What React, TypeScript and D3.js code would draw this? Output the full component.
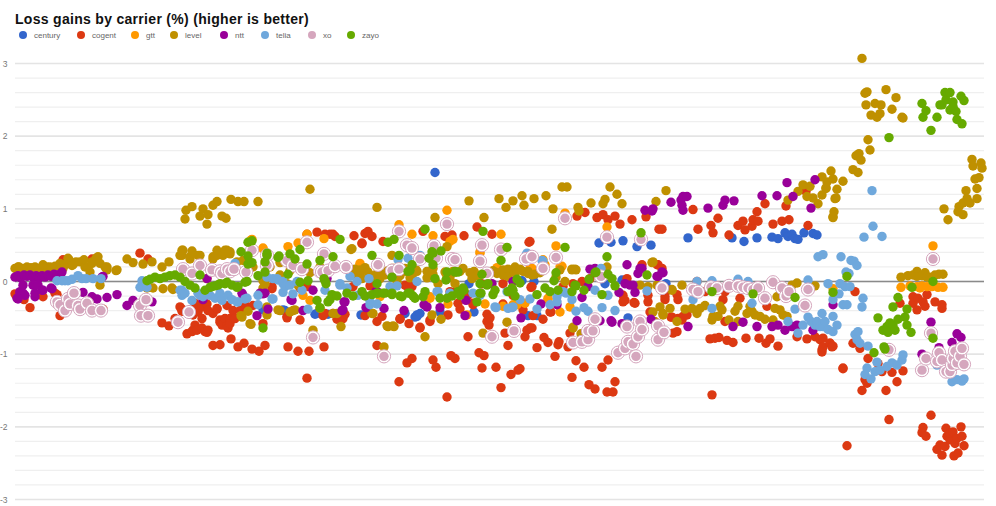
import * as d3 from "d3"

type Pt = [number, number]

// [test index, gain in %]
const century: Pt[] = [[285,-.4],[283,-.39],[263,-.39],[317,-.44],[315,-.45],[328,-.45],[361,-.46],[405,-.44],[417,-.48],[415,-.49],[417,-.46],[420,-.44],[440,-.42],[435,1.5],[469,-.03],[474,-.42],[522,.01],[528,-.47],[534,0],[537,-.47],[599,.53],[605,-.03],[611,.54],[622,.02],[623,.56],[628,-.5],[637,.48],[651,.5],[666,-.03],[688,.6],[732,.6],[744,.55],[757,.6],[772,.61],[778,.59],[785,.67],[788,.62],[792,.65],[795,.59],[798,.58],[804,.67],[813,.66],[817,.64]]

const cogent: Pt[] = [[15,-.17],[24,-.25],[30,-.36],[43,-.21],[55,-.16],[57,-.18],[60,-.47],[63,.3],[92,.31],[103,-.38],[140,.39],[148,.31],[162,-.57],[169,-.61],[175,-.51],[180,-.35],[182,-.38],[182,-.41],[187,-.72],[192,-.69],[193,-.46],[193,-.67],[195,-.3],[195,-.6],[197,-.67],[198,-.33],[198,-.42],[202,-.51],[202,-.35],[202,-.64],[205,-.69],[207,-.7],[207,-.31],[208,-.4],[208,-.67],[213,-.88],[213,-.44],[217,-.38],[217,-.37],[220,-.87],[220,-.56],[220,-.53],[222,-.6],[225,-.51],[227,-.61],[227,-.33],[228,-.64],[230,-.51],[230,-.58],[231,-.79],[233,-.4],[235,-.51],[238,-.9],[240,-.4],[245,-.32],[244,-.85],[252,-.93],[253,-.33],[259,-.96],[263,-.58],[265,-.88],[272,-.1],[272,-.07],[287,-.5],[287,-.48],[288,-.9],[298,-.96],[300,-.09],[300,-.53],[307,-1.33],[307,-.07],[309,-.96],[307,.65],[317,.68],[323,-.47],[325,-.44],[324,-.9],[325,.65],[330,.65],[333,.65],[333,-.44],[335,.62],[337,-.52],[340,-.46],[342,-.48],[343,-.51],[345,-.45],[353,-.07],[354,.63],[362,.52],[362,.53],[365,.66],[365,-.47],[368,.69],[370,-.06],[372,.62],[377,-.88],[377,-.55],[382,-.48],[383,.55],[399,-1.38],[400,-.51],[400,-.52],[405,-.05],[407,-1.12],[407,-.06],[409,-.58],[410,-.05],[412,-1.06],[412,-.07],[420,-.64],[420,-.63],[423,.69],[430,-.55],[430,-.53],[433,-1.08],[436,-1.18],[445,.62],[447,-1.59],[448,-.46],[450,-.14],[451,-1.02],[452,.64],[455,-1.06],[457,-.12],[458,-.3],[460,-.38],[464,.63],[468,-.76],[468,-.19],[473,-.32],[473,-.3],[477,.75],[479,-.98],[482,-1.19],[482,-.03],[484,-1.02],[487,-.55],[487,-.45],[489,-.6],[490,-.5],[492,.65],[496,-1.18],[501,-1.46],[503,-.31],[503,-.03],[505,-.71],[508,-.88],[511,-1.28],[513,-.19],[518,-1.22],[520,-1.2],[523,-.39],[525,-.76],[527,-.67],[529,.54],[530,.55],[530,-.64],[531,-.08],[532,-.64],[532,-.07],[533,-.47],[537,-.91],[543,-.52],[544,-.77],[548,-.84],[550,-.42],[551,-.42],[555,-1.03],[558,-.87],[559,-.83],[563,-.07],[568,-.9],[570,-.71],[572,-1.32],[573,-.03],[576,-1.09],[577,.9],[582,0],[584,-1.18],[585,.95],[589,-1.42],[590,.04],[595,-1.48],[597,.88],[602,-1.18],[603,.92],[607,-1.52],[608,.85],[608,-1.08],[613,-1.52],[615,.9],[615,-1.38],[620,.79],[623,-.28],[623,-.19],[625,-.26],[627,.04],[632,.85],[634,-.29],[635,-.3],[642,.23],[646,.89],[648,-.19],[648,-.28],[650,-.42],[657,.23],[658,.23],[659,.72],[662,.72],[662,.18],[665,-.21],[665,-.25],[668,-.12],[671,-.49],[672,-.49],[673,-.71],[677,-.18],[677,-.69],[678,-.25],[678,-.51],[682,-.53],[683,-.48],[687,-.46],[693,.99],[697,0],[698,.72],[705,-.14],[710,-.79],[711,.77],[712,-1.56],[713,.67],[715,-.78],[718,.87],[719,-.77],[723,-.25],[725,-.14],[725,-.55],[727,-.81],[729,.64],[733,-.84],[738,.77],[740,-.23],[743,.83],[745,.71],[746,-.78],[752,.76],[753,.85],[757,.96],[758,.83],[759,-.78],[765,1.07],[767,-.34],[766,-.85],[770,-.79],[773,.79],[778,-.89],[782,.83],[786,1.04],[789,.85],[797,-.76],[806,1.24],[807,-.79],[808,.77],[815,-.76],[820,-.8],[822,-.94],[822,-.97],[823,-.78],[823,-.9],[830,-.85],[830,-.85],[832,-.9],[833,-.89],[843,-1.19],[843,-1.2],[847,-2.26],[853,-.85],[855,-.14],[860,-.92],[862,-1.5],[865,-1.35],[867,-1.4],[868,-1.06],[878,-1.13],[882,-1.24],[886,-1.5],[889,-1.9],[892,-1.25],[897,-1.38],[900,-.3],[903,-1.23],[913,-.21],[913,-.3],[917,-.39],[918,-.23],[922,-2.08],[923,-.28],[923,-2.01],[925,-.34],[926,-2.13],[927,-.18],[931,-1.84],[935,-.28],[937,-2.31],[940,-2.25],[942,-.32],[942,-.37],[942,-2.39],[945,-2.27],[946,-2.02],[947,-2.13],[950,-2.18],[950,-2.09],[953,-2.07],[954,-2.4],[955,-2.23],[957,-2.16],[958,-2.36],[961,-2],[962,-2.13],[964,-2.26]]

const gtt: Pt[] = [[207,.04],[251,.57],[252,.58],[263,.45],[263,.46],[288,.48],[298,.53],[303,-.19],[307,.65],[310,-.26],[324,.59],[360,.25],[360,.23],[380,-.21],[399,.78],[412,.65],[430,-.23],[430,-.21],[433,.63],[447,.98],[448,-.31],[450,.55],[453,.58],[467,-.46],[480,.41],[480,.39],[485,-.31],[497,.19],[501,.65],[503,-.34],[513,-.32],[517,-.32],[525,-.3],[530,.18],[532,.18],[543,.3],[545,.23],[548,-.25],[548,-.23],[556,.49],[560,-.42],[560,.2],[562,.21],[565,.94],[570,-.35],[607,.75],[833,-.1],[901,-.08],[910,-.06],[917,-.07],[920,-.09],[922,-.06],[927,-.07],[932,-.07],[933,.49],[938,-.08],[943,-.08]]

const level: Pt[] = [[15,.18],[18,.2],[19,.2],[23,.18],[27,.2],[31,.19],[35,.2],[39,.18],[43,.23],[30,.13],[47,.2],[50,.2],[51,.19],[45,.12],[55,.21],[59,.22],[60,.25],[63,.18],[66,.24],[68,.32],[69,.3],[72,.22],[73,.23],[76,.27],[80,.27],[84,.3],[85,.2],[88,.2],[90,.13],[92,.27],[92,.25],[96,.32],[98,.34],[100,.25],[100,-.05],[105,.2],[107,.16],[107,.2],[116,.15],[117,.16],[127,.31],[133,.26],[143,.24],[147,-.09],[152,.27],[153,-.09],[162,.2],[163,-.1],[169,.27],[172,-.09],[173,-.11],[180,.36],[182,.43],[182,.36],[183,.43],[190,.31],[190,.34],[192,.42],[198,.36],[200,.36],[185,.86],[186,.98],[192,1.03],[200,.9],[203,1],[207,.79],[208,.92],[213,1.05],[217,1.1],[222,.9],[226,.87],[231,1.13],[238,1.1],[244,1.1],[258,1.1],[213,.31],[213,.34],[217,.36],[217,.43],[223,.36],[225,.43],[227,.43],[230,.38],[230,.41],[237,.27],[243,.29],[253,.2],[263,.01],[263,-.09],[265,-.03],[241,-.47],[242,-.49],[248,-.41],[250,-.58],[251,-.59],[267,-.35],[267,-.46],[278,-.39],[280,-.4],[280,.09],[287,-.03],[290,-.42],[293,-.4],[295,-.39],[298,-.05],[313,-.67],[320,-.37],[337,-.44],[310,1.27],[270,.2],[280,.26],[290,.15],[300,.2],[310,.12],[320,.2],[333,-.44],[341,-.62],[351,.44],[352,.45],[352,.1],[353,.11],[355,.17],[357,.07],[358,.12],[360,.16],[362,.15],[362,.04],[365,.19],[368,.13],[372,-.44],[373,-.44],[373,.08],[377,1.02],[378,.16],[380,.12],[380,.04],[384,.1],[384,-.9],[385,.09],[387,-.61],[388,-.62],[388,.15],[392,.36],[392,.18],[393,-.61],[394,-.62],[394,.18],[397,0],[400,.08],[405,.14],[405,.18],[410,.05],[412,.07],[413,.13],[416,.16],[417,.14],[425,-.76],[427,.05],[427,.14],[432,-.46],[432,.11],[433,.1],[433,.18],[435,.88],[438,-.03],[445,.13],[441,-.52],[447,.07],[447,.48],[450,.05],[453,.14],[455,.13],[455,-.03],[460,.14],[463,.18],[469,1.11],[470,.12],[472,.04],[474,.14],[477,.09],[478,.08],[484,.88],[483,-.71],[487,.09],[488,.12],[493,.15],[497,.12],[497,.11],[499,1.14],[503,.09],[503,.16],[506,1.02],[507,-.56],[508,.17],[508,.07],[513,1.11],[515,.12],[515,.2],[520,.17],[520,.16],[522,1.18],[523,.14],[524,1.05],[528,.14],[528,.11],[532,.09],[534,1.14],[535,.1],[540,.12],[546,1.18],[552,.72],[553,1],[556,.06],[560,.16],[562,1.3],[565,0],[567,1.3],[572,.17],[573,-.64],[573,-.63],[572,.16],[575,.17],[576,.16],[578,1.02],[579,.97],[581,-.72],[591,1.08],[603,1.07],[605,1.13],[607,.2],[610,1.3],[617,1.2],[622,1.07],[640,-.05],[648,-.07],[652,.26],[653,.27],[653,-.42],[655,-.55],[656,1.1],[657,-.05],[660,-.35],[663,-.44],[663,-.46],[666,1.25],[670,-.37],[672,-.11],[672,-.12],[677,-.55],[682,-.05],[685,-.38],[692,-.37],[697,-.44],[700,-.37],[705,-.33],[712,-.53],[713,-.48],[718,-.48],[720,-.34],[722,-.39],[729,-.53],[735,-.41],[738,-.34],[738,-.55],[747,-.44],[750,-.34],[752,-.41],[755,-.46],[760,-.48],[765,-.52],[773,-.53],[775,-.37],[777,-.21],[780,-.39],[783,-.46],[787,-.48],[788,1.12],[792,-.05],[797,-.02],[798,1.24],[803,1.33],[807,1.17],[810,1.31],[813,1.15],[815,-.06],[818,1.07],[822,1.19],[822,1.44],[826,1.28],[826,1.29],[827,1.37],[831,1.52],[833,.89],[833,1.41],[833,.88],[834,.96],[835,1.14],[836,1.15],[837,1.27],[843,1.38],[853,1.54],[856,1.73],[858,1.5],[859,1.76],[861,1.67],[862,3.07],[865,2.59],[866,2.43],[867,2.61],[868,1.95],[870,1.81],[871,2.29],[875,2.45],[877,2.26],[880,2.31],[881,2.43],[886,2.64],[892,2.37],[896,2.53],[901,.06],[902,2.26],[903,2.25],[908,.08],[913,.09],[917,.14],[917,.07],[922,.08],[925,.12],[927,.06],[930,.06],[935,.09],[939,.1],[943,.1],[944,1],[948,.85],[958,.96],[959,1.03],[963,.92],[963,1.08],[966,1.25],[967,1.14],[970,1.08],[972,1.68],[973,1.59],[975,1.41],[977,1.28],[977,1.14],[979,1.43],[981,1.63],[982,1.56]]

const ntt: Pt[] = [[15,.06],[17,.07],[18,.08],[21,.05],[24,.09],[27,.07],[30,.09],[33,.06],[36,.08],[39,.05],[42,.08],[45,.06],[48,.09],[51,.07],[54,.1],[57,.09],[60,.1],[62,.13],[20,-.15],[20,-.14],[18,-.24],[17,-.23],[23,-.05],[23,-.16],[25,-.19],[33,-.05],[35,-.21],[35,-.16],[38,-.05],[42,-.12],[43,-.12],[51,-.09],[52,-.1],[83,-.15],[92,-.21],[97,-.24],[102,.06],[103,.07],[107,-.22],[117,-.18],[127,-.33],[133,-.26],[152,-.28],[203,-.25],[207,.04],[242,-.16],[243,-.19],[257,-.47],[260,-.16],[263,-.17],[265,-.16],[268,-.38],[291,-.25],[292,-.26],[303,-.4],[313,-.12],[327,.04],[342,-.4],[343,-.39],[344,-.28],[345,-.28],[366,-.36],[376,-.14],[377,-.14],[384,-.37],[404,-.4],[424,-.32],[427,-.35],[440,-.36],[466,-.26],[465,-.47],[492,-.03],[513,0],[521,-.5],[541,-.31],[557,-.32],[577,-.54],[582,-.22],[588,-.07],[590,.17],[595,.18],[600,-.54],[611,-.54],[612,-.56],[619,-.15],[622,-.58],[625,-.03],[627,.23],[630,-.05],[633,-.05],[635,-.15],[638,.11],[640,.18],[642,.18],[645,.98],[651,-.52],[652,.97],[653,1],[657,.07],[658,.07],[662,.13],[663,.12],[671,1.09],[681,1.12],[682,1.05],[683,1.17],[683,.98],[687,1.17],[688,-.62],[708,1.01],[723,1.05],[725,1.12],[733,-.62],[734,1.11],[743,-.56],[757,-.62],[762,1.18],[772,-.62],[777,1.18],[778,-.6],[785,-.67],[787,1.36],[792,-.62],[793,1.17],[797,-.6],[811,1.01],[813,-.67],[815,1.4],[833,-.32],[922,-1],[931,-.56],[932,-.73],[939,-.91],[952,-.84],[957,-.72],[961,-.77]]

const telia: Pt[] = [[57,.01],[62,.01],[65,.01],[68,.01],[72,.03],[78,.08],[82,.04],[86,.04],[93,.04],[101,.04],[140,-.08],[142,.01],[147,-.08],[180,-.12],[182,-.12],[182,-.19],[183,-.17],[185,-.16],[192,-.26],[198,-.16],[200,-.19],[203,-.21],[210,-.19],[215,-.23],[220,-.16],[222,-.26],[228,-.19],[232,-.25],[235,.25],[237,-.28],[238,-.28],[245,-.24],[247,-.23],[258,-.19],[258,-.32],[267,.06],[272,-.24],[273,-.24],[273,.04],[277,.04],[278,.02],[283,-.03],[283,-.15],[283,0],[285,-.07],[290,-.05],[293,-.17],[297,0],[302,-.12],[308,-.38],[325,-.12],[340,-.05],[340,-.03],[347,-.09],[350,.07],[357,0],[358,-.19],[368,-.21],[369,.04],[370,-.32],[370,-.28],[377,-.31],[390,-.07],[397,-.06],[398,.3],[408,.32],[417,0],[420,.36],[437,-.14],[438,-.14],[450,-.16],[473,-.16],[480,-.19],[495,-.35],[496,-.36],[507,-.14],[508,-.37],[512,-.36],[513,-.35],[520,-.25],[526,.36],[527,.39],[530,-.24],[537,-.38],[542,.29],[543,.28],[550,-.32],[557,-.21],[557,-.28],[563,-.14],[566,-.16],[572,-.25],[576,-.41],[584,-.36],[588,-.41],[595,-.12],[601,.18],[602,-.36],[608,-.19],[615,-.4],[647,-.13],[693,-.25],[697,0],[712,.01],[712,-.37],[738,.03],[748,0],[752,-.3],[788,-.55],[795,-.38],[798,-.71],[803,-.6],[808,.02],[808,-.49],[811,-.55],[815,-.6],[817,-.55],[820,-.62],[822,-.44],[823,-.62],[825,-.55],[828,-.03],[828,-.66],[833,-.69],[833,-.48],[833,-.25],[837,-.6],[839,-.17],[840,-.03],[843,-.32],[845,-.07],[846,.13],[847,-.32],[849,.11],[850,-.07],[851,.29],[854,.28],[855,-.73],[857,.22],[857,-.8],[858,-.69],[860,-.85],[841,.34],[818,.34],[823,.37],[862,-.35],[863,-.23],[864,.61],[865,-1.28],[867,-1.19],[868,-.89],[871,-1.34],[872,1.25],[873,.76],[875,-1.24],[877,-1.11],[880,-1.22],[882,.62],[887,-1.17],[892,-1.12],[897,-1.15],[902,-1.08],[903,-1.01],[937,-1.15],[952,-1.38],[957,-1.35],[962,-1.37],[964,-1.34]]

const xo: Pt[] = [[57,-.28],[60,-.32],[65,-.4],[68,-.24],[70,-.31],[74,-.16],[78,-.33],[80,-.38],[87,-.3],[92,-.4],[101,-.4],[140,-.33],[141,-.47],[146,-.25],[148,-.47],[178,-.56],[183,.17],[189,-.42],[192,.11],[200,.22],[212,.16],[220,.14],[222,.11],[227,.17],[230,.14],[234,.17],[246,.13],[252,.43],[267,.36],[267,.22],[287,.29],[293,.22],[302,.17],[307,.54],[313,-.77],[320,.14],[322,.13],[324,.38],[328,.15],[335,.21],[346,.2],[378,.23],[384,-1.03],[392,.15],[399,.17],[399,.69],[407,.5],[412,.46],[420,.31],[434,.49],[436,.32],[447,.79],[452,.31],[455,.3],[480,.28],[482,.5],[487,.11],[492,-.76],[501,.44],[514,-.68],[526,.31],[532,.34],[543,.18],[556,.33],[565,.87],[573,-.84],[582,-.83],[588,-.8],[588,-.68],[593,-.68],[595,-.52],[601,.07],[607,.61],[618,-.98],[625,-.92],[627,-.62],[628,-.83],[633,-.86],[636,-1.03],[638,-.76],[640,-.55],[641,.58],[642,-.66],[658,-.8],[658,-.61],[662,-.09],[664,-.7],[693,-.11],[698,-.14],[711,-.08],[717,-.09],[729,-.06],[738,-.06],[743,-.08],[748,-.09],[753,-.11],[758,-.09],[765,-.23],[773,-.01],[782,-.09],[786,-.2],[789,-.14],[805,-.33],[808,-.11],[889,-.94],[922,-1.22],[926,-1.06],[931,-.71],[933,.31],[937,-1.1],[939,-.98],[942,-1.08],[946,-1.24],[950,-1.24],[952,-1.15],[953,-1.06],[955,-.96],[957,-1.12],[960,-1.03],[962,-.92],[964,-1.14]]

const zayo: Pt[] = [[147,.01],[150,.03],[155,.06],[160,.04],[165,.06],[170,.08],[175,.09],[180,.06],[185,0],[190,-.05],[195,-.09],[200,.09],[205,-.12],[210,-.08],[212,-.07],[215,-.06],[218,-.05],[220,-.03],[225,-.03],[227,-.01],[232,-.05],[237,-.08],[238,-.07],[241,.41],[245,-.01],[247,0],[248,.54],[248,.35],[248,.24],[252,.56],[252,.26],[258,.08],[263,-.64],[265,.13],[265,.27],[267,.36],[267,.39],[278,.33],[279,.35],[288,.1],[290,.38],[295,.31],[300,.44],[300,-.01],[307,.24],[308,.01],[317,-.26],[320,.29],[320,-.36],[324,.04],[325,.01],[326,-.03],[328,-.28],[330,-.25],[332,-.18],[333,.34],[337,-.2],[340,.58],[347,-.16],[353,-.2],[362,-.14],[365,-.2],[372,.36],[372,-.18],[377,-.03],[377,-.16],[378,-.16],[383,-.16],[385,-.16],[392,.06],[392,-.18],[392,-.16],[400,-.2],[399,.36],[402,-.21],[408,.14],[408,-.16],[410,.15],[410,-.16],[413,-.2],[412,.23],[415,-.23],[388,.54],[394,.58],[423,-.21],[425,.72],[425,-.14],[429,.32],[432,.41],[433,.23],[433,.39],[435,.04],[440,-.23],[441,.42],[446,.02],[447,.13],[447,-.23],[452,-.2],[455,.13],[455,.14],[458,.13],[458,-.14],[460,-.19],[463,-.09],[464,-.12],[477,-.28],[480,-.03],[480,-.16],[481,-.16],[482,.1],[483,.69],[487,-.05],[488,-.03],[493,-.18],[495,-.12],[501,.29],[507,.47],[508,-.14],[512,-.09],[513,-.12],[515,-.2],[517,.03],[520,-.02],[537,-.18],[545,-.09],[550,-.14],[554,.01],[556,.12],[558,-.12],[565,.47],[572,-.14],[575,-.05],[576,-.06],[584,-.12],[589,.03],[595,.12],[596,.13],[602,-.18],[607,.34],[608,.1],[612,.04],[615,-.06],[641,.67],[647,.09],[712,-.14],[753,-.17],[795,-.22],[833,-.15],[847,.07],[874,-.98],[878,-.5],[883,-.67],[884,-.9],[885,-.93],[887,-.62],[888,-.7],[889,1.98],[890,-.57],[893,-.35],[893,-.6],[895,-.67],[898,-.22],[898,-.52],[905,-.49],[907,-.38],[907,-.6],[911,-.7],[912,-.08],[922,2.45],[923,2.26],[926,2.35],[931,2.08],[933,0],[933,-.78],[937,2.26],[940,2.43],[942,2.43],[945,2.6],[946,2.5],[950,2.6],[950,2.36],[953,2.47],[953,2.41],[956,2.34],[957,2.23],[961,2.55],[962,2.17],[964,2.49]]

const yTicks = [3, 2, 1, 0, -1, -2, -3]
const yGrid = d3.range(-15, 16).map((d) => d / 5)

const carriers = ["century", "cogent", "gtt", "level", "ntt", "telia", "xo", "zayo"]
const colors = ["#3366cc", "#dc3912", "#ff9900", "#bf9000", "#990099", "#6fa8dc", "#d5a6bd", "#66aa00"]
const seriesData = [century, cogent, gtt, level, ntt, telia, xo, zayo]

const legendDot = [23, 81, 135, 174, 224, 265, 312, 351]

const width = 996
const height = 506

function App() {
    const x = d3.scaleLinear().domain([15, 985]).range([15, 985])
    const y = d3.scaleLinear().domain([-3, 3]).range([499.5, 63.5])

    return (
        <svg
            width={width}
            height={height}
            style={{ position: "absolute", left: 0, top: 0, fontFamily: "'Liberation Sans', Arial, sans-serif" }}
        >
            <text x={15} y={24} fontSize={14} fontWeight="bold" letterSpacing={0.3} fill="#111">
                Loss gains by carrier (%) (higher is better)
            </text>

            {carriers.map((name, i) => (
                <g key={name}>
                    <circle cx={legendDot[i]} cy={35} r={4} fill={colors[i]} />
                    <text x={legendDot[i] + 11} y={38} fontSize={8} fill="#666">{name}</text>
                </g>
            ))}

            {yGrid.map((d) => {
                const major = Number.isInteger(d)
                return (
                    <line
                        key={d}
                        x1={15}
                        x2={984}
                        y1={y(d)}
                        y2={y(d)}
                        stroke={major ? "#e4e4e4" : "#efefef"}
                        strokeWidth={major ? 1.6 : 1.2}
                    />
                )
            })}
            <line x1={15} x2={984} y1={y(0)} y2={y(0)} stroke="#8a8a8a" strokeWidth={1.4} />

            {yTicks.map((d) => (
                <text key={d} x={7.5} y={y(d) + 3} fontSize={8.5} textAnchor="end" fill="#777">{d}</text>
            ))}

            {seriesData.map((points, i) => (
                <g key={carriers[i]}>
                    {points.map(([px, py], j) =>
                        carriers[i] === "xo" ? (
                            <g key={j}>
                                <circle cx={x(px)} cy={y(py)} r={6.6} fill="#fff" stroke={colors[i]} strokeWidth={1} />
                                <circle cx={x(px)} cy={y(py)} r={4.7} fill={colors[i]} />
                            </g>
                        ) : (
                            <circle key={j} cx={x(px)} cy={y(py)} r={4.7} fill={colors[i]} />
                        )
                    )}
                </g>
            ))}
        </svg>
    )
}

export default App
